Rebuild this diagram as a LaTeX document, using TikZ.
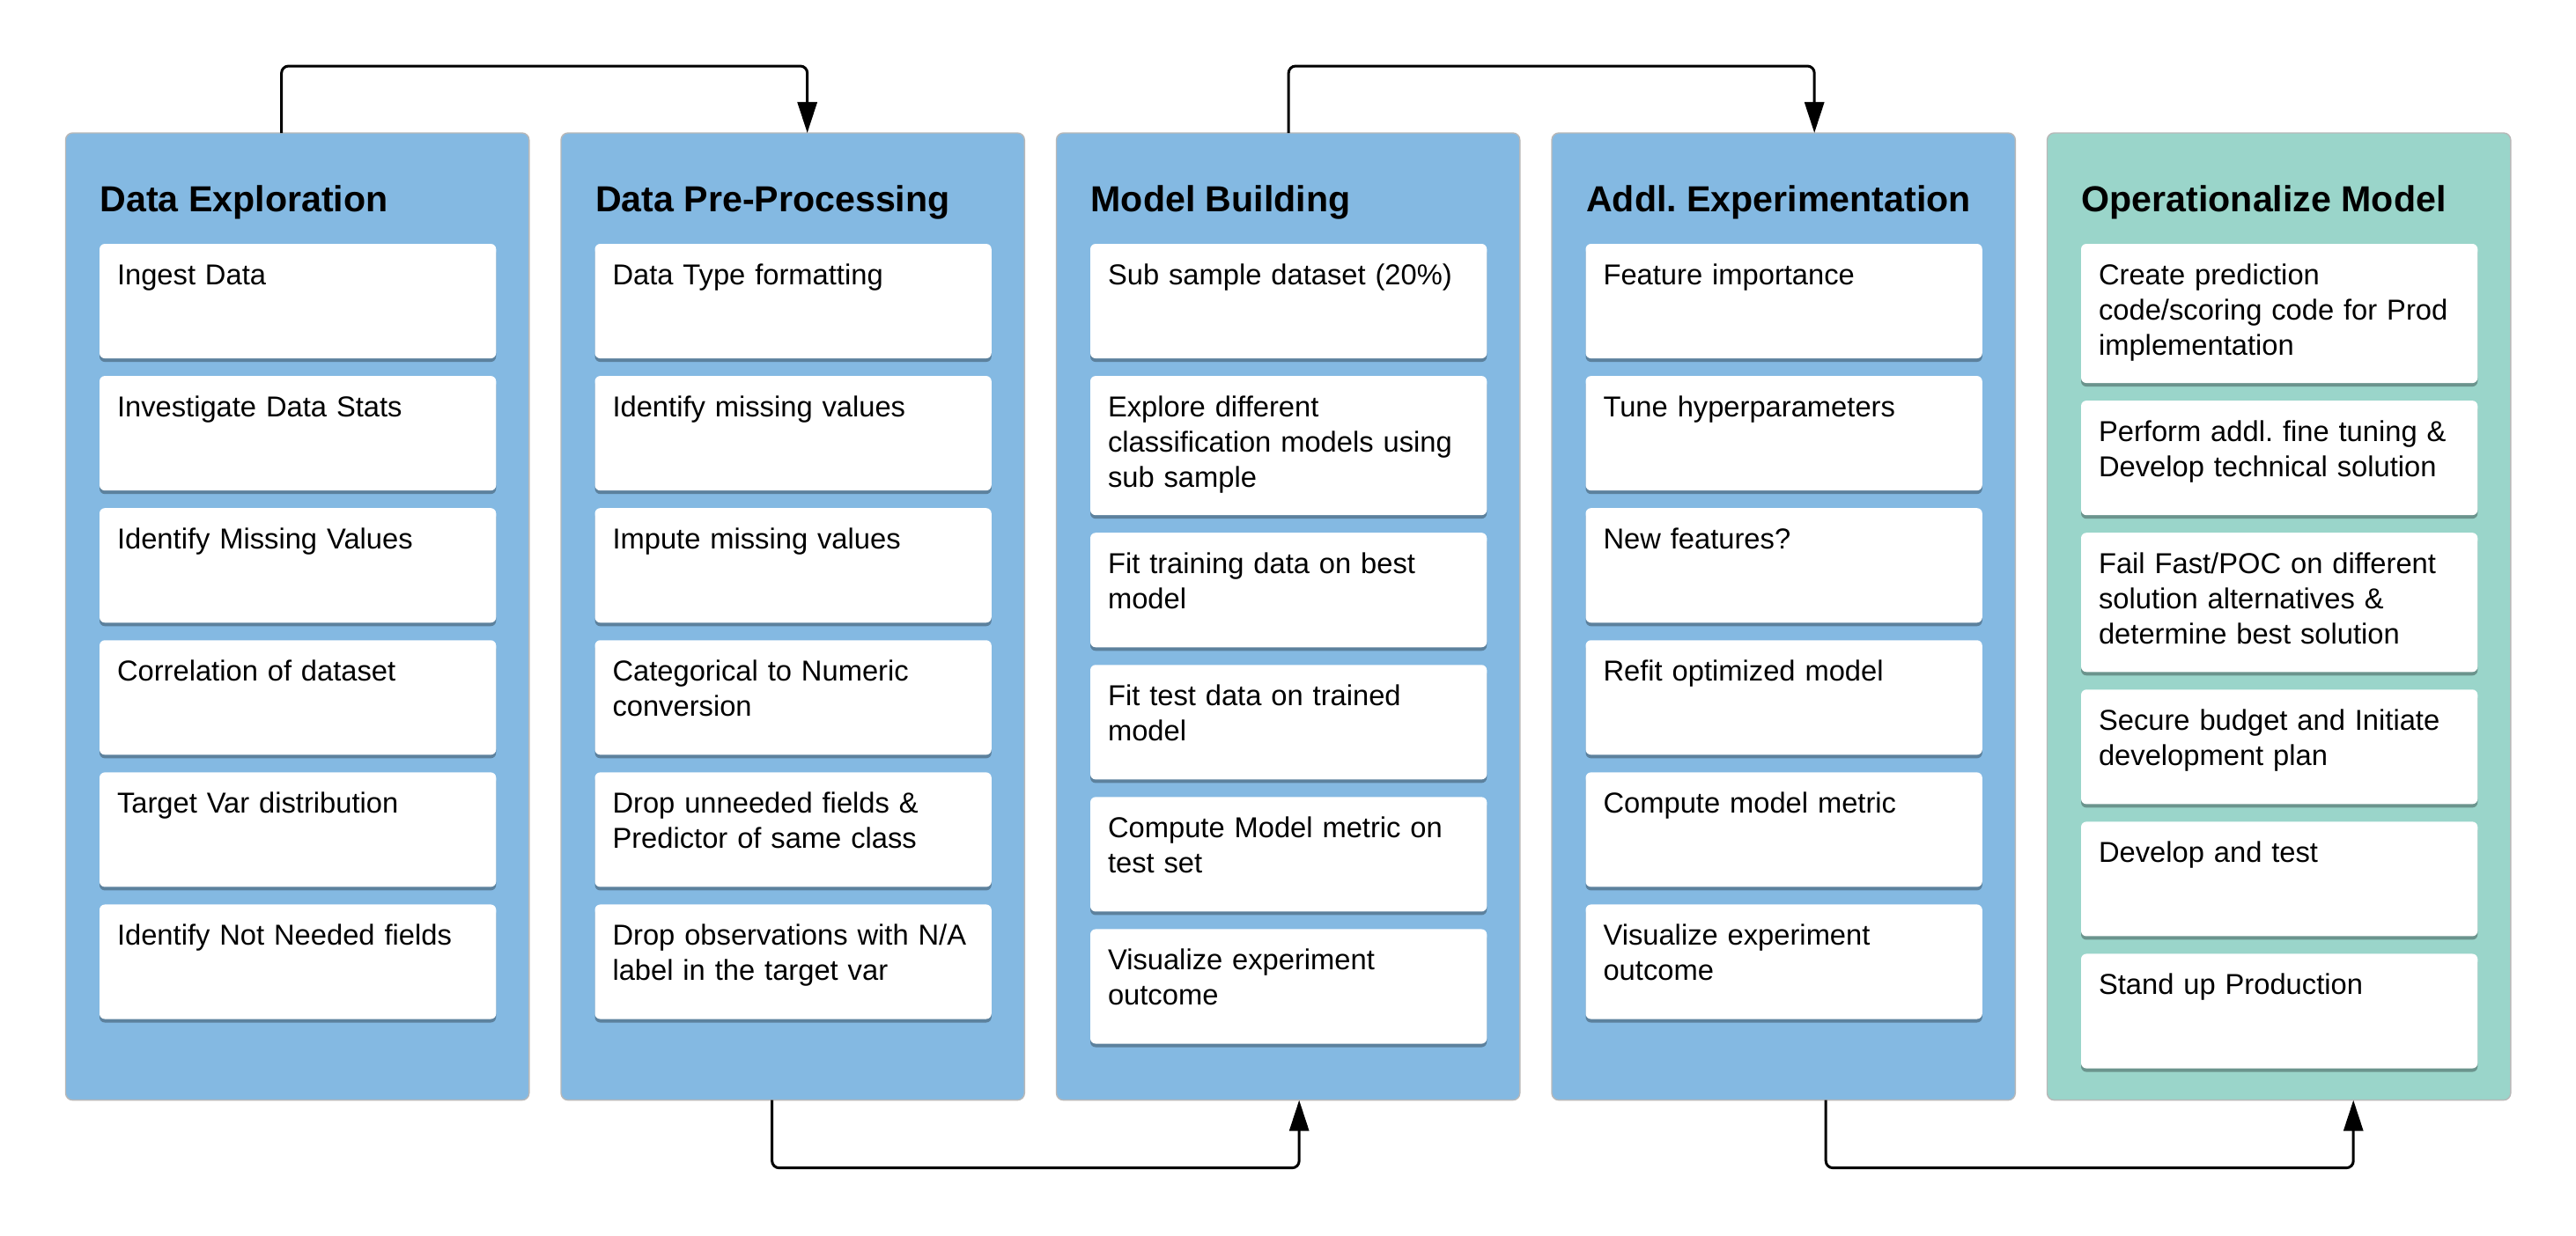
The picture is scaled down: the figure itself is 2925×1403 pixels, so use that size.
\documentclass[tikz,border=0pt]{standalone}
\usepackage{fontspec}
\setmainfont{Liberation Sans}
\usepackage{tikz}
\usetikzlibrary{positioning,shadows,arrows.meta}
\frenchspacing

\definecolor{colblue}{RGB}{132,185,226}
\definecolor{colteal}{RGB}{154,213,202}

\tikzset{
	col/.style={draw=black!28, line width=0.4pt, fill=colblue, rounded corners=0.08cm, minimum width=5.26cm, minimum height=10.98cm, anchor=north west, inner sep=0pt, outer sep=0pt},
	ttl/.style={anchor=base west, inner sep=0pt, font=\fontsize{11.7}{14}\selectfont\bfseries},
	card/.style={fill=white, rounded corners=0.06cm, text width=4.1cm, inner xsep=0.2cm, inner ysep=0pt, outer sep=0pt, text height=0.46cm, text depth=0.84cm, align=left, font=\fontsize{9.3}{11.4}\selectfont, drop shadow={shadow xshift=0pt, shadow yshift=-0.04cm, opacity=0.3, fill=black}},
	tall/.style={text depth=1.12cm},
	flow/.style={line width=0.03cm, rounded corners=0.08cm, -{Triangle[length=0.35cm, width=0.22cm]}}
}

\begin{document}
\begin{tikzpicture}[x=0.01cm, y=-0.01cm, node distance=0.2cm]
	\useasboundingbox (0,0) rectangle (2925,1403);

	% stage columns
	\node[col] (explore) at (74.5,151) {};
	\node[col] (prep) at (637,151) {};
	\node[col] (model) at (1199.5,151) {};
	\node[col] (exper) at (1762,151) {};
	\node[col, fill=colteal] (oper) at (2324.5,151) {};

	\node[ttl] (exptitle) at (113,240) {Data Exploration};
	\node[ttl] (pretitle) at (675.5,240) {Data Pre-Processing};
	\node[ttl] (modtitle) at (1238,240) {Model Building};
	\node[ttl] (addtitle) at (1800.5,240) {Addl. Experimentation};
	\node[ttl] (opstitle) at (2363,240) {Operationalize Model};

	% Data Exploration
	\node[card, anchor=north west] (exp1) at (113,277) {Ingest Data};
	\node[card, below=of exp1] (exp2) {Investigate Data Stats};
	\node[card, below=of exp2] (exp3) {Identify Missing Values};
	\node[card, below=of exp3] (exp4) {Correlation of dataset};
	\node[card, below=of exp4] (exp5) {Target Var distribution};
	\node[card, below=of exp5] (exp6) {Identify Not Needed fields};

	% Data Pre-Processing
	\node[card, anchor=north west] (pre1) at (675.5,277) {Data Type formatting};
	\node[card, below=of pre1] (pre2) {Identify missing values};
	\node[card, below=of pre2] (pre3) {Impute missing values};
	\node[card, below=of pre3] (pre4) {Categorical to Numeric\\conversion};
	\node[card, below=of pre4] (pre5) {Drop unneeded fields \&\\Predictor of same class};
	\node[card, below=of pre5] (pre6) {Drop observations with N/A\\label in the target var};

	% Model Building
	\node[card, anchor=north west] (mod1) at (1238,277) {Sub sample dataset (20\%)};
	\node[card, tall, below=of mod1] (mod2) {Explore different\\classification models using\\sub sample};
	\node[card, below=of mod2] (mod3) {Fit training data on best\\model};
	\node[card, below=of mod3] (mod4) {Fit test data on trained\\model};
	\node[card, below=of mod4] (mod5) {Compute Model metric on\\test set};
	\node[card, below=of mod5] (mod6) {Visualize experiment\\outcome};

	% Addl. Experimentation
	\node[card, anchor=north west] (add1) at (1800.5,277) {Feature importance};
	\node[card, below=of add1] (add2) {Tune hyperparameters};
	\node[card, below=of add2] (add3) {New features?};
	\node[card, below=of add3] (add4) {Refit optimized model};
	\node[card, below=of add4] (add5) {Compute model metric};
	\node[card, below=of add5] (add6) {Visualize experiment\\outcome};

	% Operationalize Model
	\node[card, tall, anchor=north west] (ops1) at (2363,277) {Create prediction\\code/scoring code for Prod\\implementation};
	\node[card, below=of ops1] (ops2) {Perform addl. fine tuning \&\\Develop technical solution};
	\node[card, tall, below=of ops2] (ops3) {Fail Fast/POC on different\\solution alternatives \&\\determine best solution};
	\node[card, below=of ops3] (ops4) {Secure budget and Initiate\\development plan};
	\node[card, below=of ops4] (ops5) {Develop and test};
	\node[card, below=of ops5] (ops6) {Stand up Production};

	% hand-offs
	\draw[flow] ([xshift=2.45cm]explore.north west) -- ++(0,-76) -| ([xshift=2.795cm]prep.north west);
	\draw[flow] ([xshift=2.395cm]prep.south west) -- ++(0,77) -| ([xshift=2.755cm]model.south west);
	\draw[flow] ([xshift=2.635cm]model.north west) -- ++(0,-76) -| ([xshift=2.98cm]exper.north west);
	\draw[flow] ([xshift=3.11cm]exper.south west) -- ++(0,77) -| ([xshift=3.475cm]oper.south west);
\end{tikzpicture}
\end{document}
